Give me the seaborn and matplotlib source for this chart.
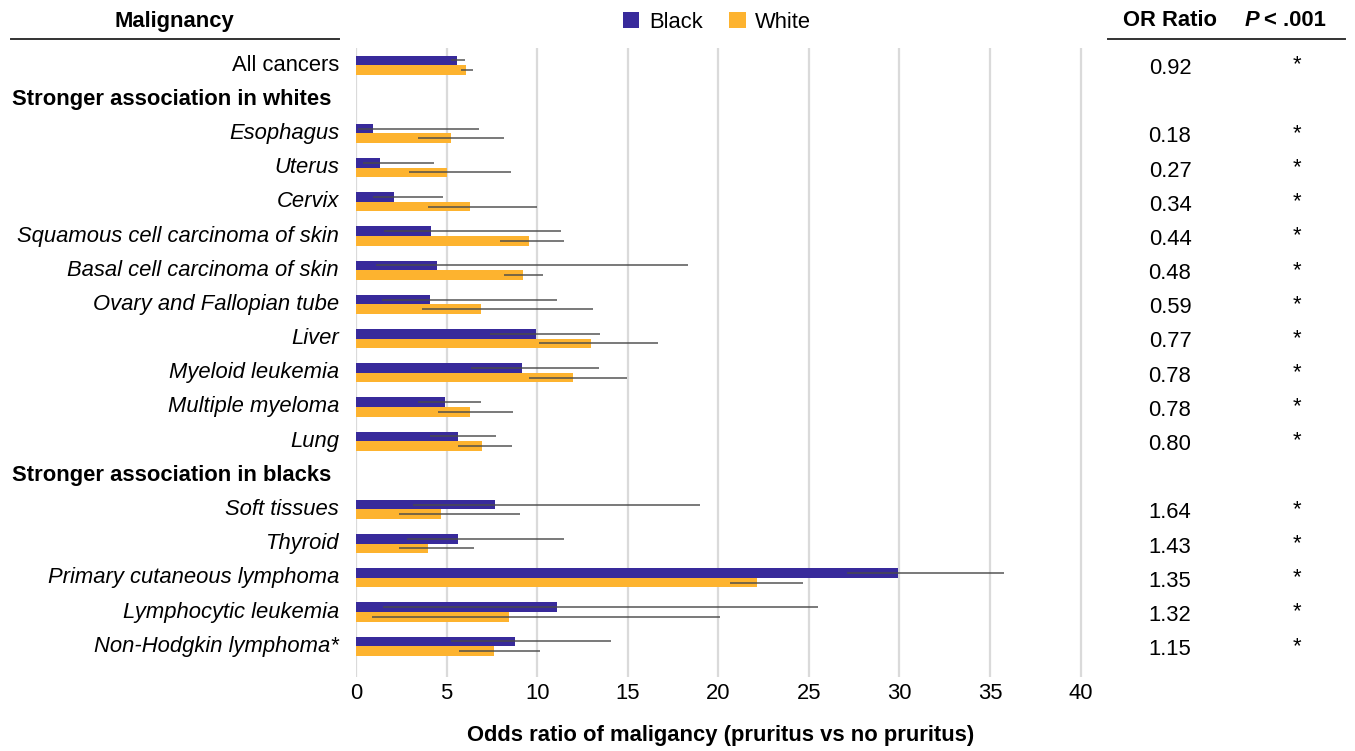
import pandas as pd
import seaborn as sns
import matplotlib.pyplot as plt
from matplotlib.transforms import blended_transform_factory

# row layout (headers have no bars)
rows = ['All cancers', 'Stronger association in whites', 'Esophagus', 'Uterus', 'Cervix',
        'Squamous cell carcinoma of skin', 'Basal cell carcinoma of skin',
        'Ovary and Fallopian tube', 'Liver', 'Myeloid leukemia', 'Multiple myeloma', 'Lung',
        'Stronger association in blacks', 'Soft tissues', 'Thyroid',
        'Primary cutaneous lymphoma', 'Lymphocytic leukemia', 'Non-Hodgkin lymphoma*']
headers = ['Stronger association in whites', 'Stronger association in blacks']
cancers = [r for r in rows if r not in headers]

black_or = [5.58, 0.92, 1.34, 2.11, 4.16, 4.46, 4.09, 9.96, 9.19, 4.90, 5.63,
            7.70, 5.64, 29.9, 11.11, 8.76]
black_lo = [5.23, 0.10, 0.37, 0.95, 1.52, 1.10, 1.45, 7.37, 6.33, 3.43, 4.07,
            3.12, 2.82, 27.1, 1.47, 5.27]
black_hi = [6.02, 6.79, 4.28, 4.79, 11.30, 18.35, 11.10, 13.48, 13.43, 6.92, 7.72,
            18.99, 11.51, 35.8, 25.49, 14.06]
white_or = [6.07, 5.26, 5.00, 6.29, 9.54, 9.23, 6.92, 12.97, 11.96, 6.29, 6.97,
            4.69, 3.97, 22.13, 8.46, 7.61]
white_lo = [5.81, 3.43, 2.94, 3.98, 7.94, 8.16, 3.67, 10.13, 9.56, 4.53, 5.65,
            2.40, 2.40, 20.66, 0.86, 5.69]
white_hi = [6.46, 8.17, 8.53, 10.00, 11.49, 10.35, 13.06, 16.69, 14.97, 8.66, 8.62,
            9.05, 6.50, 24.70, 20.09, 10.16]
or_ratio = ['0.92', '0.18', '0.27', '0.34', '0.44', '0.48', '0.59', '0.77', '0.78', '0.78',
            '0.80', '1.64', '1.43', '1.35', '1.32', '1.15']

df = pd.DataFrame({
    'cancer': cancers * 2,
    'race': ['Black'] * len(cancers) + ['White'] * len(cancers),
    'odds': black_or + white_or,
    'lo': black_lo + white_lo,
    'hi': black_hi + white_hi,
})

plt.rcParams['font.family'] = ['Liberation Sans', 'DejaVu Sans']
FS = 15.8
colors = {'Black': '#382a9b', 'White': '#fdb32f'}

fig = plt.figure(figsize=(13.55, 7.51), dpi=100)
ax = fig.add_axes([356 / 1355, 1 - 677 / 751, 730 / 1355, 629 / 751])

sns.barplot(data=df, y='cancer', x='odds', hue='race', order=rows,
            hue_order=['Black', 'White'], palette=colors, saturation=1, width=0.56,
            orient='h', ax=ax, legend=True)

# confidence intervals, one thin line per bar
for cont, race in zip(ax.containers, ['Black', 'White']):
    sub = df[df.race == race].set_index('cancer')
    for bar in cont:
        yc = bar.get_y() + bar.get_height() / 2
        name = rows[int(round(yc))]
        ax.hlines(yc, sub.loc[name, 'lo'], sub.loc[name, 'hi'], color='#4a4a4a',
                  lw=1.3, alpha=0.8, zorder=4)

ax.set_xlim(0, 40.3)
ax.set_ylim(17.9, -0.5)
ax.set_xticks(range(0, 41, 5))
ax.grid(axis='x', color='#dadada', lw=1.6)
ax.set_axisbelow(True)
for s in ax.spines.values():
    s.set_visible(False)
ax.tick_params(axis='x', length=0, labelsize=FS, pad=4)
ax.tick_params(axis='y', length=0)
ax.set_yticklabels([])
ax.set_ylabel('')
ax.set_xlabel('')

tr = blended_transform_factory(fig.transFigure, ax.transData)
k = 0
for i, name in enumerate(rows):
    if name in headers:
        ax.text(12 / 1355, i, name, transform=tr, fontsize=FS, fontweight='bold',
                ha='left', va='center')
        continue
    style = 'normal' if name == 'All cancers' else 'italic'
    ax.text(339 / 1355, i, name, transform=tr, fontsize=FS, fontstyle=style,
            ha='right', va='center')
    ax.text(1170 / 1355, i + 0.1, or_ratio[k], transform=tr, fontsize=FS,
            ha='center', va='center')
    ax.text(1297 / 1355, i, '*', transform=tr, fontsize=FS, ha='center', va='center')
    k += 1

# column headers
hy = 1 - 21 / 751
fig.text(174 / 1355, hy, 'Malignancy', fontsize=FS, fontweight='bold',
         ha='center', va='center')
fig.text(1170 / 1355, hy, 'OR Ratio', fontsize=FS, fontweight='bold',
         ha='center', va='center')
fig.text(1245 / 1355, hy, 'P', fontsize=FS, fontweight='bold', fontstyle='italic',
         ha='left', va='center')
fig.text(1264 / 1355, hy, '< .001', fontsize=FS, fontweight='bold',
         ha='left', va='center')
fig.add_artist(plt.Line2D([11 / 1355, 339 / 1355], [1 - 39 / 751] * 2, color='#333333',
                          lw=1.4))
fig.add_artist(plt.Line2D([1108 / 1355, 1345 / 1355], [1 - 39 / 751] * 2,
                          color='#333333', lw=1.4))

ax.legend(title=None, loc='center', bbox_to_anchor=(717 / 1355, 1 - 22 / 751),
          bbox_transform=fig.transFigure, ncol=2, frameon=False, fontsize=FS,
          handlelength=0.75, handleheight=0.75, handletextpad=0.45, columnspacing=1.2)

fig.text(721 / 1355, 1 - 736 / 751, 'Odds ratio of maligancy (pruritus vs no pruritus)',
         fontsize=FS, fontweight='bold', ha='center', va='center')

plt.savefig('out.png', dpi=100)
